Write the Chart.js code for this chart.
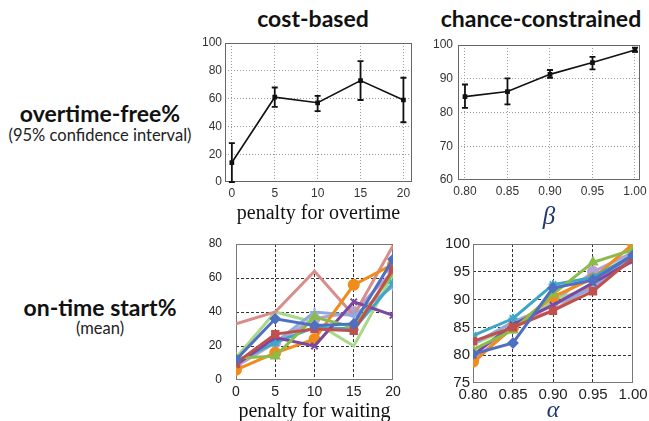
<!DOCTYPE html>
<html><head><meta charset="utf-8">
<script src="https://cdn.jsdelivr.net/npm/chart.js@4.4.1/dist/chart.umd.min.js"></script>
<style>
html,body{margin:0;padding:0;background:#fff;width:649px;height:421px;overflow:hidden;position:relative;}
canvas{position:absolute;}
.t{position:absolute;font-family:Lato,"Open Sans",sans-serif;color:#111;white-space:nowrap;transform:translate(-50%,-50%);}
.h{font-weight:700;font-size:23px;}
.s{font-size:16.5px;color:#222;}
</style></head><body>
<div class="t h" style="left:313px;top:18px">cost-based</div>
<div class="t h" style="left:541px;top:18px">chance-constrained</div>
<div class="t h" style="left:100px;top:113px">overtime-free%</div>
<div class="t s" style="left:100px;top:135px">(95% confidence interval)</div>
<div class="t h" style="left:100px;top:307px">on-time start%</div>
<div class="t s" style="left:100px;top:328px">(mean)</div>
<canvas id="c1" width="225" height="193" style="left:193px;top:35px"></canvas>
<canvas id="c2" width="221" height="195" style="left:428px;top:37px"></canvas>
<canvas id="c3" width="211" height="187" style="left:192px;top:237px"></canvas>
<canvas id="c4" width="216" height="188" style="left:433px;top:237px"></canvas>
<script>
// ---------- data ----------
const costX = [0, 5, 10, 15, 20];
const costTickLabels = ['0', '5', '10', '15', '20'];
const costMean = [14, 61, 57, 73, 59];
const costLow = [0, 54, 51, 59, 43];
const costHigh = [28, 68, 62, 87, 75];

const chanceX = [0.80, 0.85, 0.90, 0.95, 1.00];
const chanceTickLabels = ['0.80', '0.85', '0.90', '0.95', '1.00'];
const chanceMean = [84.7, 86.2, 91.3, 94.8, 98.5];
const chanceLow = [81.4, 82.4, 90.3, 92.8, 98.0];
const chanceHigh = [88.3, 90.1, 92.6, 96.5, 99.2];

const waitX = [0, 5, 10, 15, 20];
const waitBlue = [12, 36, 32, 33, 71];
const waitRed = [10, 27, 30, 29, 65];
const waitGreen = [13, 14, 37, 31, 63];
const waitPurple = [9, 25, 20, 46, 38];
const waitAqua = [11, 22, 31, 30, 57];
const waitOrange = [6, 16, 24, 56, 68];
const waitLightBlue = [10, 22, 40, 38, 55];
const waitPink = [33, 40, 64, 38, 79];
const waitLightGreen = [13, 40, 34, 20, 62];
const waitLavender = [8, 22, 36, 40, 64];

const alphaX = [0.80, 0.85, 0.90, 0.95, 1.00];
const alphaBlue = [80.2, 82.2, 92.1, 93.5, 98];
const alphaRed = [82.5, 85, 88, 91.5, 97.5];
const alphaGreen = [81, 84.5, 91, 96.7, 99];
const alphaPurple = [80, 85.5, 89, 93, 97];
const alphaAqua = [83.5, 86.6, 92.7, 94, 98];
const alphaOrange = [78.8, 85, 90.5, 93.8, 100];
const alphaLightBlue = [82, 86, 89, 92, 98];
const alphaPink = [78.5, 85.5, 88, 92.5, 97];
const alphaLightGreen = [82, 85, 90, 92.1, 98.5];
const alphaLavender = [79, 85, 89.5, 95, 98.5];

const seriesColors = ['#4F6FC2', '#C0504D', '#8DBB4A', '#7B4AA0', '#3FA6C6', '#F08C1A', '#8FAADF', '#D98C8A', '#A8D88A', '#B4A2D6'];
const seriesMarkers = ['rectRot', 'rect', 'triangle', 'crossRot', 'star', 'circle', 'cross', false, false, 'circle'];

// ---------- helpers ----------
const pts = (xs, ys) => xs.map((x, i) => ({x: x, y: ys[i]}));

const boxPlugin = {
  id: 'box',
  beforeDatasetsDraw(chart, args, opts) {
    const {ctx, chartArea: a} = chart;
    ctx.save();
    ctx.strokeStyle = opts.color || '#666';
    ctx.lineWidth = 1;
    const l = Math.round(a.left) + 0.5, t = Math.round(a.top) + 0.5;
    const r = Math.round(a.right) - 0.5, b = Math.round(a.bottom) - 0.5;
    ctx.strokeRect(l, t, r - l, b - t);
    ctx.restore();
  }
};

const errPlugin = {
  id: 'errbars',
  afterDatasetsDraw(chart, args, opts) {
    if (!opts || !opts.low) return;
    const {ctx, scales: {x, y}} = chart;
    ctx.save();
    ctx.strokeStyle = '#111';
    ctx.lineWidth = 1.8;
    opts.xs.forEach((xv, i) => {
      const px = x.getPixelForValue(xv);
      const p1 = y.getPixelForValue(opts.low[i]);
      const p2 = y.getPixelForValue(opts.high[i]);
      ctx.beginPath();
      ctx.moveTo(px, p1); ctx.lineTo(px, p2);
      ctx.moveTo(px - 3, p1); ctx.lineTo(px + 3, p1);
      ctx.moveTo(px - 3, p2); ctx.lineTo(px + 3, p2);
      ctx.stroke();
    });
    ctx.restore();
  }
};
Chart.register(boxPlugin, errPlugin);

function makeChart(id, cfg) {
  const xFont = {family: 'Liberation Sans, Arial, sans-serif', size: cfg.xFontSize};
  const yFont = {family: 'Liberation Sans, Arial, sans-serif', size: cfg.yFontSize};
  const edgeless = (color) => (c) => {
    const s = c.scale;
    if (!c.tick) return color;
    return (Math.abs(c.tick.value - s.min) < 1e-9 || Math.abs(c.tick.value - s.max) < 1e-9) ? 'rgba(0,0,0,0)' : color;
  };
  return new Chart(document.getElementById(id), {
    type: 'line',
    data: {datasets: cfg.datasets},
    options: {
      responsive: false,
      animation: false,
      devicePixelRatio: 1,
      layout: {padding: {top: cfg.pt, right: cfg.pr, left: 0, bottom: 0}},
      plugins: {
        legend: {display: false},
        tooltip: {enabled: false},
        box: {color: cfg.boxColor},
        errbars: cfg.err || {}
      },
      scales: {
        x: {
          type: 'linear',
          min: cfg.xMin, max: cfg.xMax,
          afterBuildTicks: (s) => { s.ticks = cfg.xTicks.map(v => ({value: v})); },
          afterFit: (s) => { s.height = cfg.xh; s.paddingLeft = 0; s.paddingRight = 0; },
          ticks: {
            padding: cfg.xPad, font: xFont, color: cfg.tickColor, maxRotation: 0, autoSkip: false,
            callback: (v, i) => cfg.xLabels[i]
          },
          grid: {drawTicks: false, color: edgeless(cfg.gridColor), lineWidth: 1},
          border: {display: false, dash: cfg.dash},
          title: {
            display: true, text: cfg.xTitle, color: cfg.xTitleColor,
            font: cfg.xTitleFont, padding: {top: 0, bottom: cfg.titlePad}
          }
        },
        y: {
          type: 'linear',
          min: cfg.yMin, max: cfg.yMax,
          afterFit: (s) => { s.width = cfg.yw; s.paddingTop = 0; s.paddingBottom = 0; },
          ticks: {stepSize: cfg.yStep, padding: cfg.yPad, font: yFont, color: cfg.tickColor},
          grid: {drawTicks: false, color: edgeless(cfg.gridColor), lineWidth: 1},
          border: {display: false, dash: cfg.dash}
        }
      }
    }
  });
}

function multi(xs, arrays) {
  return arrays.map((ys, i) => ({
    data: pts(xs, ys),
    borderColor: seriesColors[i],
    backgroundColor: seriesColors[i],
    borderWidth: 3,
    pointStyle: seriesMarkers[i] || 'circle',
    pointRadius: seriesMarkers[i] ? (seriesMarkers[i] === 'circle' ? 5 : 4.5) : 0,
    pointBorderWidth: 2,
    tension: 0
  }));
}

// ---------- top-left: cost-based overtime-free ----------
makeChart('c1', {
  datasets: [{data: pts(costX, costMean), borderColor: '#111', backgroundColor: '#111', borderWidth: 1.6,
    pointStyle: 'rect', pointRadius: 2.2, tension: 0}],
  err: {xs: costX, low: costLow, high: costHigh},
  pt: 8, pr: 6, xh: 46, yw: 32, yPad: 3, xPad: 4, xFontSize: 12, yFontSize: 12,
  xMin: -0.8, xMax: 21, xTicks: costX, xLabels: costTickLabels,
  yMin: 0, yMax: 100, yStep: 20,
  gridColor: '#9a9a9a', dash: [1, 2], boxColor: '#666', tickColor: '#333',
  xTitle: 'penalty for overtime', xTitleColor: '#111',
  xTitleFont: {family: 'Liberation Serif, Times New Roman, serif', size: 20, lineHeight: 1.2}, titlePad: 2
});

// ---------- top-right: chance-constrained overtime-free ----------
makeChart('c2', {
  datasets: [{data: pts(chanceX, chanceMean), borderColor: '#111', backgroundColor: '#111', borderWidth: 1.6,
    pointStyle: 'rect', pointRadius: 2.2, tension: 0}],
  err: {xs: chanceX, low: chanceLow, high: chanceHigh},
  pt: 8, pr: 9, xh: 52, yw: 30, yPad: 5, xPad: 4, xFontSize: 12, yFontSize: 12,
  xMin: 0.7918, xMax: 1.0059, xTicks: chanceX, xLabels: chanceTickLabels,
  yMin: 60, yMax: 100, yStep: 10,
  gridColor: '#9a9a9a', dash: [1, 2], boxColor: '#666', tickColor: '#333',
  xTitle: 'β', xTitleColor: '#1F3A6E',
  xTitleFont: {family: 'Liberation Serif, Times New Roman, serif', size: 25, style: 'italic', lineHeight: 1.2}, titlePad: 0
});

// ---------- bottom-left: cost-based on-time start ----------
makeChart('c3', {
  datasets: multi(waitX, [waitBlue, waitRed, waitGreen, waitPurple, waitAqua, waitOrange, waitLightBlue, waitPink, waitLightGreen, waitLavender]),
  pt: 6, pr: 10, xh: 44, yw: 44, yPad: 14, xPad: 4, xFontSize: 14, yFontSize: 12,
  xMin: 0, xMax: 20, xTicks: waitX, xLabels: costTickLabels,
  yMin: 0, yMax: 80, yStep: 20,
  gridColor: '#333', dash: [3, 2], boxColor: '#777', tickColor: '#222',
  xTitle: 'penalty for waiting', xTitleColor: '#111',
  xTitleFont: {family: 'Liberation Serif, Times New Roman, serif', size: 20, lineHeight: 1.2}, titlePad: 0
});

// ---------- bottom-right: chance-constrained on-time start ----------
makeChart('c4', {
  datasets: multi(alphaX, [alphaBlue, alphaRed, alphaGreen, alphaPurple, alphaAqua, alphaOrange, alphaLightBlue, alphaPink, alphaLightGreen, alphaLavender]),
  pt: 6, pr: 16, xh: 42, yw: 40, yPad: 3, xPad: 3, xFontSize: 15, yFontSize: 15,
  xMin: 0.80, xMax: 1.00, xTicks: alphaX, xLabels: chanceTickLabels,
  yMin: 75, yMax: 100, yStep: 5,
  gridColor: '#333', dash: [3, 2], boxColor: '#777', tickColor: '#222',
  xTitle: 'α', xTitleColor: '#1F3A6E',
  xTitleFont: {family: 'Liberation Serif, Times New Roman, serif', size: 24, style: 'italic', lineHeight: 1.2}, titlePad: 0
});
</script>
</body></html>
